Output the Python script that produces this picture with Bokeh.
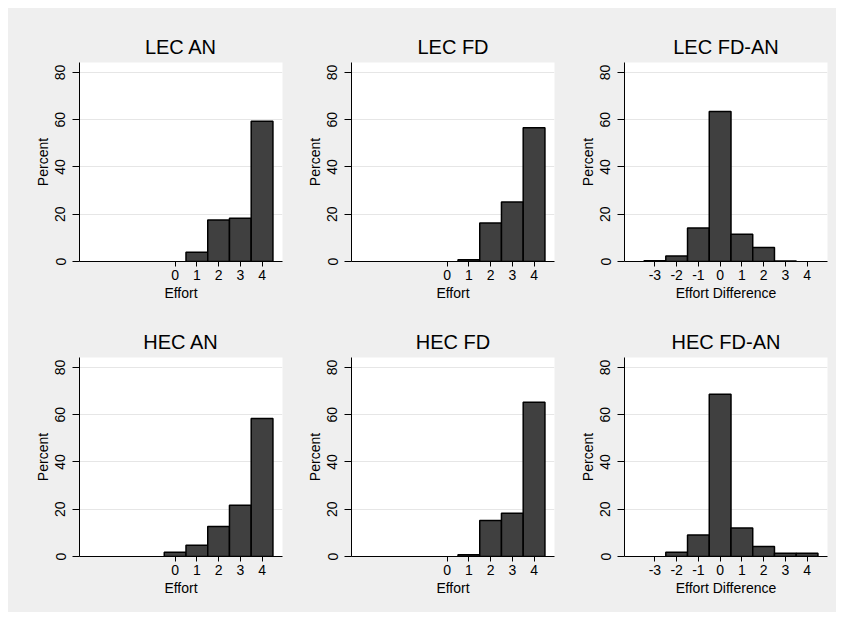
from bokeh.plotting import figure
from bokeh.layouts import column, row
from bokeh.models import Range1d, FixedTicker
from bokeh.embed import file_html
from bokeh.resources import INLINE

# ---- data (percent of observations per category) ----
effort_levels = [0, 1, 2, 3, 4]
diff_levels = [-3, -2, -1, 0, 1, 2, 3, 4]

lec_an = [0.0, 3.9, 17.6, 18.3, 59.3]
lec_fd = [0.0, 0.7, 16.3, 25.2, 56.6]
lec_fd_an = [0.3, 2.3, 14.2, 63.5, 11.5, 5.9, 0.2, 0.0]

hec_an = [1.8, 4.8, 12.7, 21.7, 58.4]
hec_fd = [0.0, 0.7, 15.2, 18.3, 65.3]
hec_fd_an = [0.0, 1.8, 9.1, 68.6, 12.1, 4.2, 1.4, 1.4]

titles = ["LEC AN", "LEC FD", "LEC FD-AN", "HEC AN", "HEC FD", "HEC FD-AN"]
x_labels = ["Effort", "Effort", "Effort Difference"]
y_label = "Percent"
y_ticks = [0, 20, 40, 60, 80]

# ---- style ----
BG = "#EFEFEF"
BAR = "#404040"
FONT = "Liberation Sans"

col_borders = [(71, 2), (67, 6), (64, 9)]
row_borders = [(54, 41), (54, 56)]


def make(title, xs, ys, ticks, xlabel, lr, tb):
    p = figure(frame_width=203, frame_height=199,
               x_range=Range1d(-4.4, 4.94), y_range=Range1d(0, 84.2),
               output_backend="svg", toolbar_location=None,
               min_border_left=lr[0], min_border_right=lr[1],
               min_border_top=tb[0], min_border_bottom=tb[1],
               border_fill_color=BG, background_fill_color="white",
               outline_line_color=None)
    p.title.text = title
    p.title.text_font = FONT
    p.title.text_font_size = "20px"
    p.title.text_font_style = "normal"
    p.title.text_color = "black"
    p.title.align = "center"

    bx = [x for x, y in zip(xs, ys) if y > 0]
    by = [y for y in ys if y > 0]
    p.vbar(x=bx, top=by, bottom=0, width=1.0, fill_color=BAR,
           line_color="black", line_width=1.5)

    p.xaxis.ticker = FixedTicker(ticks=ticks)
    p.xaxis.major_label_overrides = {t: str(t) for t in ticks}
    p.yaxis.ticker = FixedTicker(ticks=y_ticks)
    p.xaxis.axis_label = xlabel
    p.yaxis.axis_label = y_label
    p.yaxis.major_label_orientation = "vertical"
    for ax in (p.xaxis, p.yaxis):
        ax.axis_line_color = "black"
        ax.axis_line_width = 1
        ax.major_tick_line_color = "black"
        ax.major_tick_in = 0
        ax.minor_tick_line_color = None
        ax.major_label_text_font = FONT
        ax.major_label_text_font_size = "14px"
        ax.major_label_text_color = "black"
        ax.axis_label_text_font = FONT
        ax.axis_label_text_font_size = "14px"
        ax.axis_label_text_font_style = "normal"
        ax.axis_label_text_color = "black"
        ax.axis_label_standoff = 2
    p.xaxis.major_tick_out = 5
    p.xaxis.major_label_standoff = 3
    p.yaxis.major_tick_out = 7
    p.yaxis.major_label_standoff = 7
    p.xgrid.visible = False
    p.ygrid.grid_line_color = "#E6E6E6"
    p.ygrid.grid_line_width = 1
    return p


series = [
    (effort_levels, lec_an), (effort_levels, lec_fd), (diff_levels, lec_fd_an),
    (effort_levels, hec_an), (effort_levels, hec_fd), (diff_levels, hec_fd_an),
]

rows = []
for r in range(2):
    figs = []
    for c in range(3):
        i = r * 3 + c
        xs, ys = series[i]
        figs.append(make(titles[i], xs, ys, xs, x_labels[c],
                         col_borders[c], row_borders[r]))
    rows.append(row(*figs, spacing=0, styles={"background-color": BG}))

layout = column(*rows, spacing=0, margin=(8, 8, 8, 8),
                styles={"background-color": BG})
open("out.html", "w").write(file_html(layout, INLINE))
